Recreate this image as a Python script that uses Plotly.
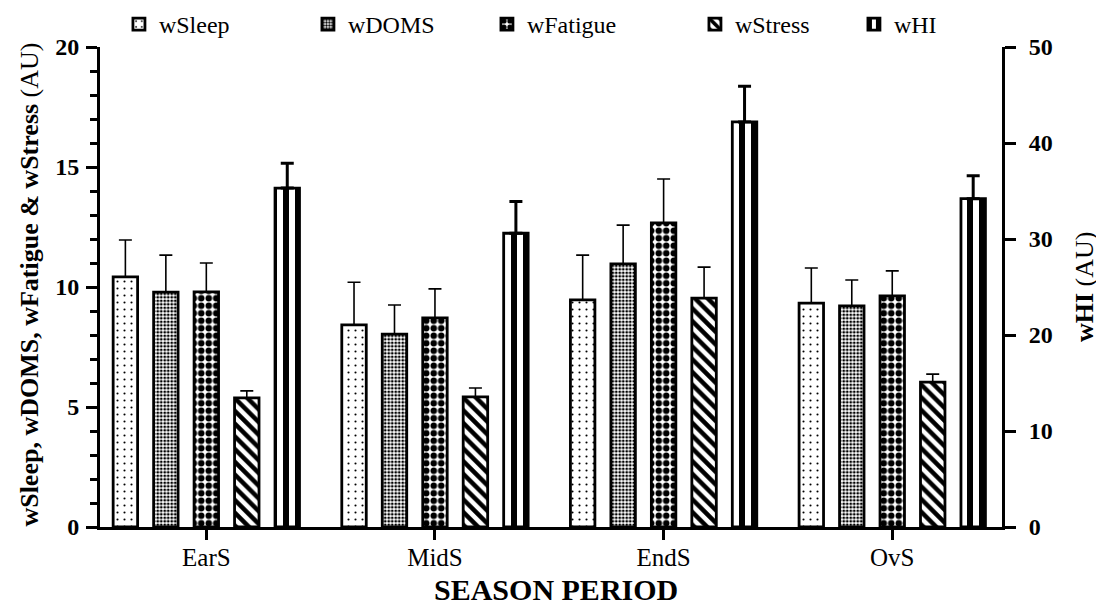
import plotly.graph_objects as go

periods = ["EarS", "MidS", "EndS", "OvS"]

wSleep = [10.42, 8.42, 9.46, 9.33]
wSleep_err = [1.54, 1.78, 1.87, 1.46]
wDOMS = [9.79, 8.04, 10.96, 9.21]
wDOMS_err = [1.54, 1.21, 1.62, 1.08]
wFatigue = [9.80, 8.71, 12.67, 9.63]
wFatigue_err = [1.20, 1.21, 1.83, 1.04]
wStress = [5.38, 5.42, 9.54, 6.04]
wStress_err = [0.29, 0.37, 1.29, 0.33]
wHI = [35.3, 30.6, 42.2, 34.2]
wHI_err = [2.6, 3.3, 3.7, 2.4]

FONT = "Liberation Serif"
STEP = 0.177
BW = 0.107

series = [
    ("wSleep", wSleep, wSleep_err, dict(shape=".", size=7, solidity=0.07), "y", 1.6, 144),
    ("wDOMS", wDOMS, wDOMS_err, dict(shape=".", size=3.5, solidity=0.5), "y", 1.6, 134),
    ("wFatigue", wFatigue, wFatigue_err, dict(shape=".", size=7.5, solidity=0.6), "y", 1.6, 163),
    ("wStress", wStress, wStress_err, dict(shape="\\", size=9, solidity=0.5), "y", 1.6, 114),
    ("wHI", wHI, wHI_err, dict(shape="|", size=12, solidity=0.5), "y2", 3.0, 60),
]

fig = go.Figure()
for i, (name, vals, errs, pat, yax, thick, lw) in enumerate(series):
    center = (i - 2) * STEP
    fig.add_trace(go.Bar(
        x=periods, y=vals, name=name, yaxis=yax,
        offset=center - BW / 2, width=BW,
        marker=dict(color="white",
                    line=dict(color="black", width=2.8),
                    pattern=dict(fgcolor="black", bgcolor="white", fillmode="replace", **pat)),
        error_y=dict(type="data", array=errs, arrayminus=[0] * len(errs), symmetric=False,
                     color="black", thickness=thick, width=6.5),
        legendwidth=lw,
    ))

# page body keeps an 8px default margin, so the figure is 8px smaller and shifted
fig.update_layout(
    width=1096, height=599,
    margin=dict(l=92, r=102, t=39, b=80, autoexpand=False),
    plot_bgcolor="white", paper_bgcolor="white",
    barmode="overlay",
    font=dict(family=FONT, color="black"),
    showlegend=True,
    legend=dict(orientation="h", x=0.021, xanchor="left", y=1.047, yanchor="middle",
                font=dict(family=FONT, size=24, color="black"),
                bgcolor="rgba(0,0,0,0)"),
    xaxis=dict(type="category", range=[-0.465, 3.48], showline=True, linecolor="black",
               linewidth=3, ticks="outside", ticklen=10, tickwidth=3, tickcolor="black",
               ticklabelstandoff=-4,
               tickfont=dict(family=FONT, size=25, color="black"), showgrid=False,
               zeroline=False),
    yaxis=dict(range=[0, 20], dtick=5, tick0=0, showline=True, linecolor="black", linewidth=3,
               ticks="outside", ticklen=11, tickwidth=3, tickcolor="black",
               ticklabelstandoff=2,
               tickfont=dict(family=FONT, size=24, color="black", weight="bold"),
               minor=dict(dtick=1, ticks="outside", ticklen=7, tickwidth=3, tickcolor="black"),
               showgrid=False, zeroline=False),
    yaxis2=dict(range=[0, 50], dtick=10, tick0=0, overlaying="y", side="right", showline=True,
                linecolor="black", linewidth=3, ticks="outside", ticklen=11, tickwidth=3,
                tickcolor="black", ticklabelstandoff=8,
                tickfont=dict(family=FONT, size=24, color="black", weight="bold"),
                showgrid=False, zeroline=False),
)

fig.add_annotation(text="<b>wSleep, wDOMS, wFatigue & wStress</b> (AU)", textangle=-90,
                   xref="paper", yref="paper", x=(30 - 100) / 902, y=0.505,
                   xanchor="center", yanchor="middle",
                   showarrow=False, font=dict(family=FONT, size=26, color="black"))
fig.add_annotation(text="<b>wHI</b> (AU)", textangle=-90,
                   xref="paper", yref="paper", x=(1084 - 100) / 902, y=0.5,
                   xanchor="center", yanchor="middle",
                   showarrow=False, font=dict(family=FONT, size=26, color="black"))
fig.add_annotation(text="<b>SEASON PERIOD</b>",
                   xref="paper", yref="paper", x=(556 - 100) / 902, y=(527 - 589) / 480,
                   xanchor="center", yanchor="middle",
                   showarrow=False, font=dict(family=FONT, size=30, color="black"))

fig.write_html("out.html")
